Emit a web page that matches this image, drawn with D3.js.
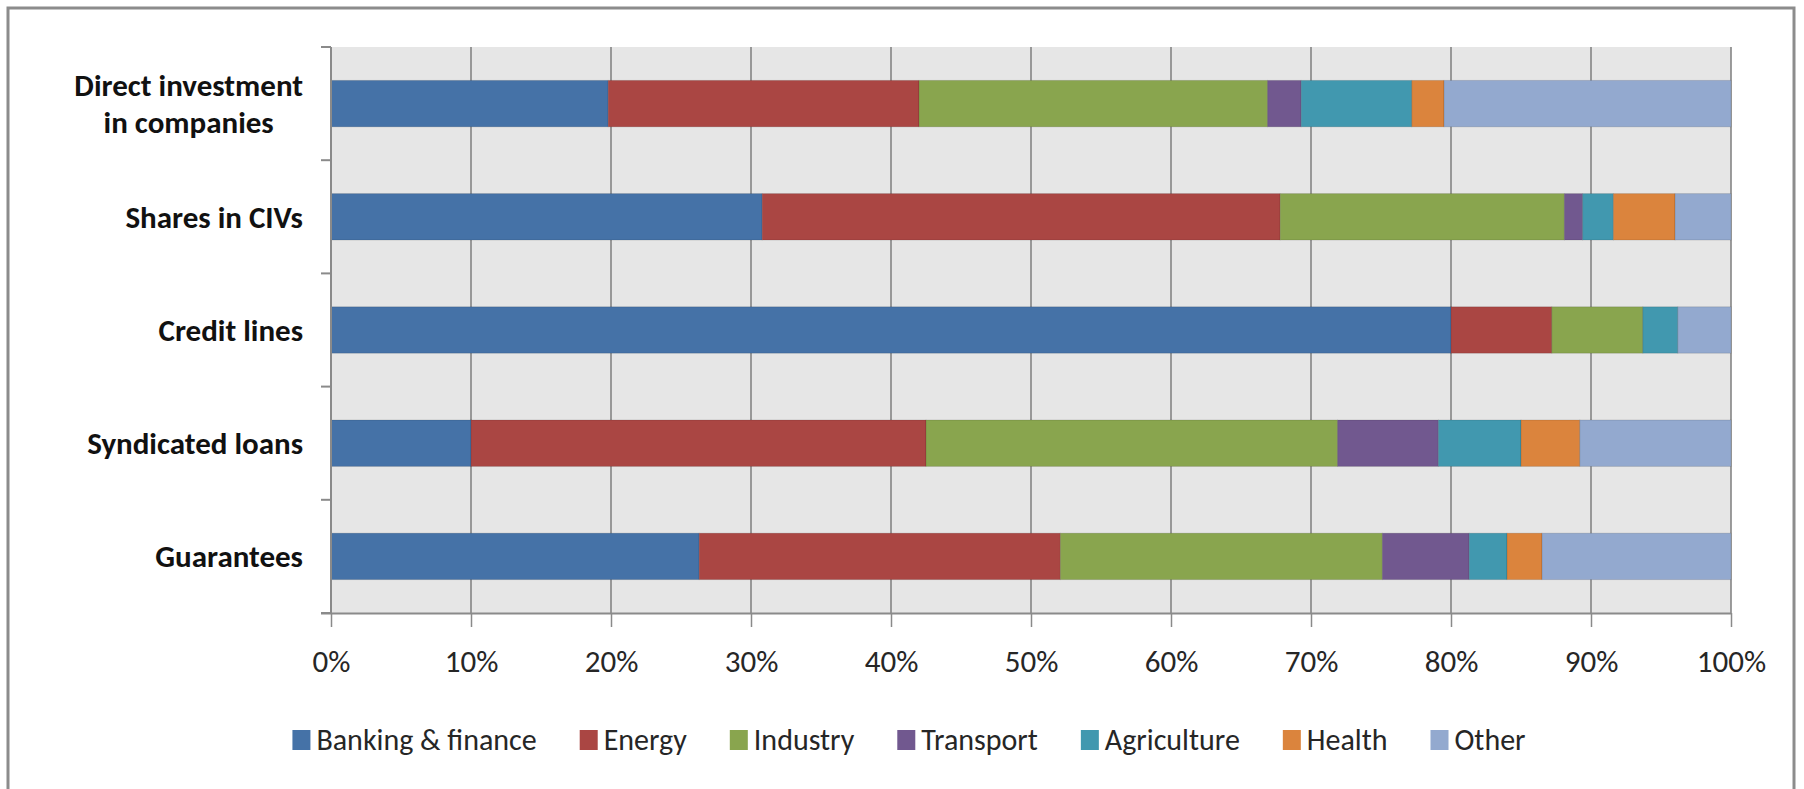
<!DOCTYPE html>
<html>
<head>
<meta charset="utf-8">
<script src="https://cdn.jsdelivr.net/npm/d3@7/dist/d3.min.js"></script>
<style>
  html, body { margin: 0; padding: 0; background: #fff; }
  svg { display: block; }
</style>
</head>
<body>
<svg id="chart" width="1804" height="789"></svg>
<script>
// ---- data ----
const categories = ["Direct investment\nin companies", "Shares in CIVs", "Credit lines", "Syndicated loans", "Guarantees"];
const sectors = ["Banking & finance", "Energy", "Industry", "Transport", "Agriculture", "Health", "Other"];
const banking     = [19.8, 30.8, 80.0, 10.0, 26.3];
const energy      = [22.2, 37.0,  7.2, 32.5, 25.8];
const industry    = [24.9, 20.3,  6.5, 29.4, 23.0];
const transport   = [ 2.4,  1.3,  0.0,  7.2,  6.2];
const agriculture = [ 7.9,  2.2,  2.5,  5.9,  2.7];
const health      = [ 2.3,  4.4,  0.0,  4.2,  2.5];
const other       = [20.5,  4.0,  3.8, 10.8, 13.5];
const tickValues  = [0, 10, 20, 30, 40, 50, 60, 70, 80, 90, 100];
const tickLabels  = ["0%", "10%", "20%", "30%", "40%", "50%", "60%", "70%", "80%", "90%", "100%"];

const seriesValues = [banking, energy, industry, transport, agriculture, health, other];
const colors = ["#4572a7", "#aa4643", "#89a54e", "#71588f", "#4198af", "#db843d", "#93a9cf"];

// table for d3.stack
const table = categories.map((c, i) => {
  const row = { category: c };
  sectors.forEach((s, j) => { row[s] = seriesValues[j][i]; });
  return row;
});

// ---- layout ----
const svg = d3.select("#chart");
const plot = { left: 331, right: 1731, top: 47, bottom: 613 };
const FONT = "Carlito, Calibri, Lato, 'Open Sans', sans-serif";

// outer frame
svg.append("rect")
  .attr("x", 8).attr("y", 8).attr("width", 1786).attr("height", 800)
  .attr("fill", "#fff").attr("stroke", "#8c8c8c").attr("stroke-width", 3);

const x = d3.scaleLinear().domain([0, 100]).range([plot.left, plot.right]);
const y = d3.scaleBand().domain(categories).range([plot.top, plot.bottom]).padding(0);
const barFrac = 0.41;

// plot background
svg.append("rect")
  .attr("x", plot.left).attr("y", plot.top)
  .attr("width", plot.right - plot.left).attr("height", plot.bottom - plot.top)
  .attr("fill", "#e6e6e6");

// vertical gridlines
svg.append("g").selectAll("line").data(tickValues.slice(1)).join("line")
  .attr("x1", d => x(d)).attr("x2", d => x(d))
  .attr("y1", plot.top).attr("y2", plot.bottom)
  .attr("stroke", "#858585").attr("stroke-width", 1.6);

// bars
const stack = d3.stack().keys(sectors);
const stacked = stack(table);
const barH = y.bandwidth() * barFrac;
svg.append("g").selectAll("g").data(stacked).join("g")
  .attr("fill", (d, i) => colors[i])
  .selectAll("rect").data(d => d).join("rect")
  .attr("x", d => x(d[0]))
  .attr("width", d => Math.max(0, x(d[1]) - x(d[0])))
  .attr("y", d => y(d.data.category) + (y.bandwidth() - barH) / 2)
  .attr("height", barH)
  .attr("stroke", "rgba(0,0,0,0.12)").attr("stroke-width", 1);

// x axis
const xAxis = d3.axisBottom(x).tickValues(tickValues)
  .tickFormat((d, i) => tickLabels[i]).tickSize(14).tickPadding(23);
const gx = svg.append("g").attr("transform", `translate(0,${plot.bottom})`).call(xAxis);
gx.select(".domain").attr("stroke", "#8a8a8a").attr("stroke-width", 2)
  .attr("d", `M${plot.left - 10},0.5H${plot.right}`);
gx.selectAll(".tick line").attr("stroke", "#8a8a8a").attr("stroke-width", 1.5);
gx.selectAll(".tick text")
  .attr("font-family", FONT).attr("font-size", 31).attr("fill", "#262626");

// y axis (category boundaries ticks)
const yAxisG = svg.append("g");
yAxisG.append("line")
  .attr("x1", plot.left).attr("x2", plot.left)
  .attr("y1", plot.top).attr("y2", plot.bottom)
  .attr("stroke", "#8a8a8a").attr("stroke-width", 2);
const boundaries = categories.map(c => y(c)).concat([plot.bottom]);
yAxisG.selectAll("line.tk").data(boundaries).join("line").attr("class", "tk")
  .attr("x1", plot.left - 10).attr("x2", plot.left)
  .attr("y1", d => d).attr("y2", d => d)
  .attr("stroke", "#8a8a8a").attr("stroke-width", 2);

// category labels
const lineGap = 37;
const labelG = svg.append("g");
categories.forEach(c => {
  const lines = c.split("\n");
  const cy = y(c) + y.bandwidth() / 2;
  const t = labelG.append("text")
    .attr("font-family", FONT).attr("font-size", 31).attr("font-weight", "bold")
    .attr("fill", "#111");
  if (lines.length === 1) {
    t.attr("x", 303).attr("y", cy + 11).attr("text-anchor", "end").text(lines[0]);
  } else {
    t.attr("text-anchor", "middle");
    lines.forEach((ln, k) => {
      t.append("tspan").attr("y", cy + 11 + (k - (lines.length - 1) / 2) * lineGap).text(ln);
    });
    const widths = [];
    t.selectAll("tspan").each(function() { widths.push(this.getComputedTextLength()); });
    const maxW = d3.max(widths);
    t.selectAll("tspan").attr("x", 303 - maxW / 2);
  }
});

// legend
const legendG = svg.append("g");
const swatch = 18, swGap = 6, itemGap = 43;
let cx = 0;
sectors.forEach((s, i) => {
  const g = legendG.append("g");
  g.append("rect").attr("x", 0).attr("y", -20).attr("width", swatch).attr("height", swatch + 2)
    .attr("fill", colors[i]);
  const tx = g.append("text").attr("x", swatch + swGap).attr("y", 0)
    .attr("font-family", FONT).attr("font-size", 30).attr("fill", "#262626").text(s);
  const w = swatch + swGap + tx.node().getComputedTextLength();
  g.attr("transform", `translate(${cx},0)`);
  cx += w + itemGap;
});
const totalW = cx - itemGap;
legendG.attr("transform", `translate(${909 - totalW / 2},750)`);
</script>
</body>
</html>
